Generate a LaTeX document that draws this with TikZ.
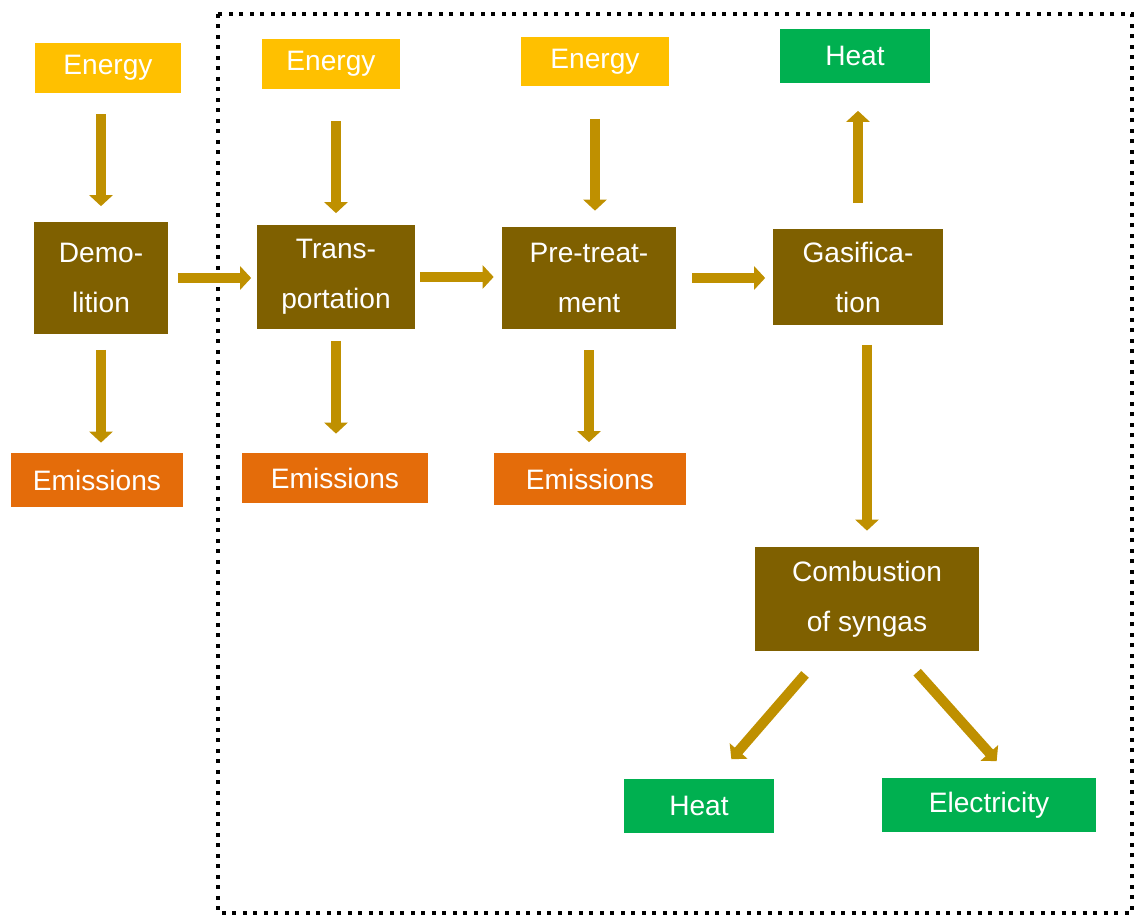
\documentclass[tikz,border=0pt]{standalone}
\usepackage{fontspec}
\setmainfont{Liberation Sans}
\usepackage{tikz}
\usetikzlibrary{arrows.meta, positioning, calc}

\definecolor{energyyellow}{HTML}{FFC000}
\definecolor{processbrown}{HTML}{7F6000}
\definecolor{emissionorange}{HTML}{E46C0A}
\definecolor{outputgreen}{HTML}{00B050}
\definecolor{arrowgold}{HTML}{BF9000}

\tikzset{
  box/.style={inner sep=0pt, text=white, align=center},
  energy/.style={box, fill=energyyellow},
  process/.style={box, fill=processbrown},
  emission/.style={box, fill=emissionorange},
  output/.style={box, fill=outputgreen},
  flow/.style={draw=arrowgold, line width=0.2cm, -{Triangle[width=0.46cm, length=0.22cm]}}
}

\begin{document}
\begin{tikzpicture}[x=0.02cm, y=-0.02cm, font=\fontsize{16}{28.5}\selectfont]
  \useasboundingbox (0,0) rectangle (1134,915);

  % System boundary
  \draw[line width=0.08cm, dash pattern=on 0.08cm off 0.13cm] (218,14) rectangle (1132,913);

  % Inputs
  \node[energy, minimum width=2.92cm, minimum height=1.00cm] (e1) at (108,68) {Energy};
  \node[energy, minimum width=2.76cm, minimum height=1.00cm] (e2) at (331,64) {Energy};
  \node[energy, minimum width=2.96cm, minimum height=0.98cm] (e3) at (595,62) {Energy};

  % Process chain
  \node[process, minimum width=2.70cm, minimum height=2.26cm] (demo) at (101,278) {Demo-\\lition};
  \node[process, minimum width=3.18cm, minimum height=2.10cm] (trans) at (336,277) {Trans-\\portation};
  \node[process, minimum width=3.48cm, minimum height=2.04cm] (pre) at (589,278) {Pre-treat-\\ment};
  \node[process, minimum width=3.42cm, minimum height=1.94cm] (gas) at (858,277) {Gasifica-\\tion};
  \node[process, minimum width=4.48cm, minimum height=2.08cm] (comb) at (867,599) {Combustion\\of syngas};

  % Emissions
  \node[emission, minimum width=3.44cm, minimum height=1.08cm] (em1) at (97,480) {Emissions};
  \node[emission, minimum width=3.72cm, minimum height=1.00cm] (em2) at (335,478) {Emissions};
  \node[emission, minimum width=3.84cm, minimum height=1.06cm] (em3) at (590,479) {Emissions};

  % Outputs
  \node[output, minimum width=3.00cm, minimum height=1.10cm] (heattop) at (855,56) {Heat};
  \node[output, minimum width=3.02cm, minimum height=1.10cm] (heatbot) at (699,806) {Heat};
  \node[output, minimum width=4.30cm, minimum height=1.10cm] (elec) at (989,805) {Electricity};

  % Energy in
  \draw[flow, shorten <=0.42cm, shorten >=0.3cm] (demo.north |- e1.south) -- (demo.north);
  \draw[flow, shorten <=0.64cm, shorten >=0.22cm] (trans.north |- e2.south) -- (trans.north);
  \draw[flow, shorten <=0.64cm, shorten >=0.32cm] (e3.south) -- (e3.south |- pre.north);

  % Emissions out
  \draw[flow, shorten <=0.3cm, shorten >=0.2cm] (demo.south) -- (demo.south |- em1.north);
  \draw[flow, shorten <=0.22cm, shorten >=0.38cm] (trans.south) -- (trans.south |- em2.north);
  \draw[flow, shorten <=0.42cm, shorten >=0.2cm] (pre.south) -- (pre.south |- em3.north);

  % Main chain
  \draw[flow, shorten <=0.18cm, shorten >=0.1cm] (demo.east) -- (demo.east -| trans.west);
  \draw[flow, shorten <=0.08cm, shorten >=0.16cm] (trans.east) -- (trans.east -| pre.west);
  \draw[flow, shorten <=0.32cm, shorten >=0.14cm] (pre.east) -- (pre.east -| gas.west);
  \draw[flow, shorten <=0.5cm, shorten >=0.54cm] (gas.north) -- (gas.north |- heattop.south);
  \draw[flow, shorten <=0.38cm, shorten >=0.32cm] (gas.south -| comb.north) -- (comb.north);

  % Products
  \draw[flow, shorten <=0.61cm, shorten >=0.5cm] ([xshift=-0.84cm]comb.south) -- ([xshift=0.32cm]heatbot.north);
  \draw[flow, shorten <=0.56cm, shorten >=0.43cm] ([xshift=0.63cm]comb.south) -- ([xshift=0.44cm]elec.north);
\end{tikzpicture}
\end{document}
